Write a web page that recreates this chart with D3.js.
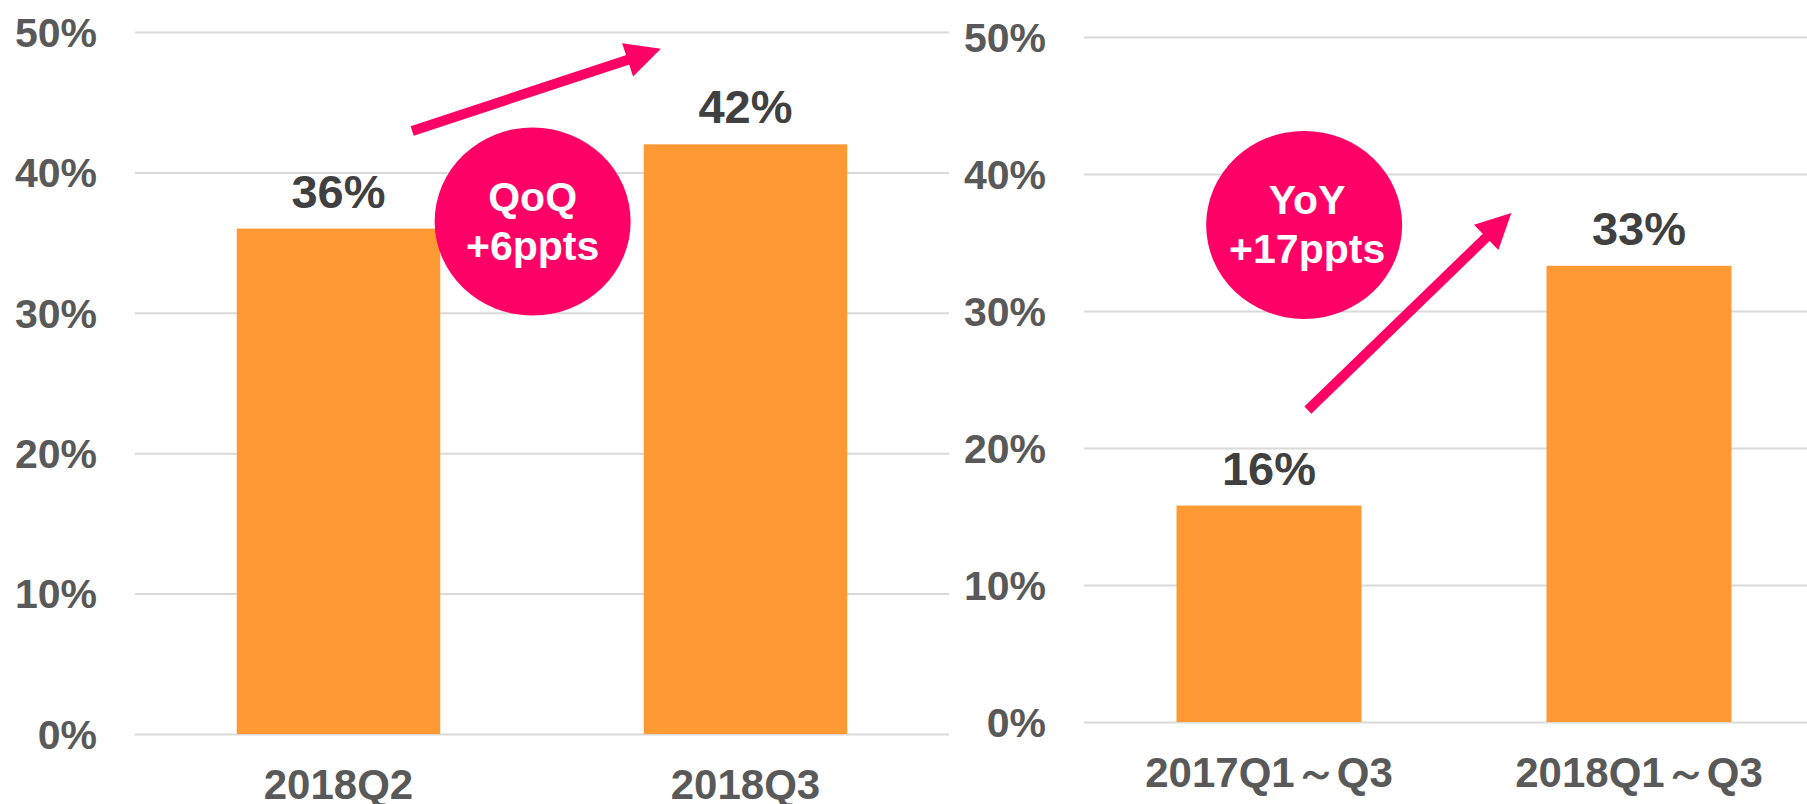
<!DOCTYPE html>
<html>
<head>
<meta charset="utf-8">
<script src="https://cdn.jsdelivr.net/npm/d3@7"></script>
<style>
  body { margin: 0; background: #fff; }
  svg { display: block; font-family: "Liberation Sans", Arial, "Noto Sans CJK JP", sans-serif; font-weight: bold; }
  .grid line { stroke: #d9d9d9; stroke-width: 2; }
  .grid text { fill: #595959; font-size: 41px; }
  .cats text { fill: #595959; font-size: 42px; }
</style>
</head>
<body>
<script>
// data
var qoqCats = ['2018Q2', '2018Q3'];
var qoqVals = [0.36, 0.42];
var qoqLabels = ['36%', '42%'];

var yoyCats = ['2017Q1～Q3', '2018Q1～Q3'];
var yoyVals = [0.158, 0.333];
var yoyLabels = ['16%', '33%'];

var yTicks = [0, 0.1, 0.2, 0.3, 0.4, 0.5];

var qoqBadge = ['QoQ', '+6ppts'];
var yoyBadge = ['YoY', '+17ppts'];

// layout of the two panels (pixels) and annotation anchors (band units / values)
var panels = [
  { cats: qoqCats, vals: qoqVals, labels: qoqLabels, badge: qoqBadge,
    x0: 135, x1: 949, y0: 734, y1: 32,
    arrow: { from: [0.681, 0.4295], to: [1.292, 0.488] },
    circle: { at: [0.977, 0.365], rx: 98, ry: 94, dx: 0 } },
  { cats: yoyCats, vals: yoyVals, labels: yoyLabels, badge: yoyBadge,
    x0: 1084, x1: 1824, y0: 722, y1: 37,
    arrow: { from: [0.605, 0.2277], to: [1.155, 0.3715] },
    circle: { at: [0.595, 0.3628], rx: 98, ry: 94, dx: 3 } }
];

var pink = '#ff0066';
var orange = '#ff9933';

var svg = d3.select('body').append('svg')
  .attr('width', 1807)
  .attr('height', 804);

panels.forEach(function(p) {
  var x = d3.scaleBand().domain(p.cats).range([p.x0, p.x1])
    .paddingInner(0.5).paddingOuter(0.25);
  var xu = d3.scaleLinear().domain([0, 2]).range([p.x0, p.x1]);
  var y = d3.scaleLinear().domain([0, 0.5]).range([p.y0, p.y1]);

  var g = svg.append('g');

  // gridlines + tick labels
  g.append('g')
    .attr('class', 'grid')
    .attr('transform', 'translate(' + p.x0 + ',0)')
    .call(d3.axisLeft(y).tickValues(yTicks)
      .tickFormat(d3.format('.0%'))
      .tickSize(-(p.x1 - p.x0))
      .tickPadding(38))
    .call(function(a) { a.select('.domain').remove(); })
    .selectAll('text').attr('dy', '0.35em');

  // bars
  g.selectAll('rect.bar')
    .data(p.vals)
    .enter().append('rect')
    .attr('class', 'bar')
    .attr('x', function(d, i) { return x(p.cats[i]); })
    .attr('y', function(d) { return y(d); })
    .attr('width', x.bandwidth())
    .attr('height', function(d) { return y(0) - y(d); })
    .attr('fill', orange);

  // value labels
  g.selectAll('text.val')
    .data(p.vals)
    .enter().append('text')
    .attr('class', 'val')
    .attr('x', function(d, i) { return x(p.cats[i]) + x.bandwidth() / 2; })
    .attr('y', function(d) { return y(d) - 21; })
    .attr('text-anchor', 'middle')
    .attr('fill', '#404040')
    .style('font-size', '47px')
    .text(function(d, i) { return p.labels[i]; });

  // category labels
  g.append('g')
    .attr('class', 'cats')
    .attr('transform', 'translate(0,' + p.y0 + ')')
    .call(d3.axisBottom(x).tickSize(0).tickPadding(35))
    .call(function(a) { a.select('.domain').remove(); });

  // arrow
  var ax0 = xu(p.arrow.from[0]), ay0 = y(p.arrow.from[1]);
  var ax1 = xu(p.arrow.to[0]), ay1 = y(p.arrow.to[1]);
  var dx = ax1 - ax0, dy = ay1 - ay0, len = Math.sqrt(dx * dx + dy * dy);
  var ux = dx / len, uy = dy / len;
  var headLen = 35, headHalf = 17.5;
  var bx = ax1 - ux * headLen, by = ay1 - uy * headLen;
  g.append('line')
    .attr('x1', ax0).attr('y1', ay0)
    .attr('x2', bx + ux * 2).attr('y2', by + uy * 2)
    .attr('stroke', pink)
    .attr('stroke-width', 10);
  g.append('polygon')
    .attr('points', [
      [ax1, ay1],
      [bx - uy * headHalf, by + ux * headHalf],
      [bx + uy * headHalf, by - ux * headHalf]
    ].map(function(pt) { return pt.join(','); }).join(' '))
    .attr('fill', pink);

  // badge
  var cx = xu(p.circle.at[0]), cy = y(p.circle.at[1]);
  g.append('ellipse')
    .attr('cx', cx).attr('cy', cy)
    .attr('rx', p.circle.rx).attr('ry', p.circle.ry)
    .attr('fill', pink);
  g.selectAll('text.badge')
    .data(p.badge)
    .enter().append('text')
    .attr('class', 'badge')
    .attr('x', cx + p.circle.dx)
    .attr('y', function(d, i) { return cy + (i === 0 ? -11 : 38); })
    .attr('text-anchor', 'middle')
    .attr('fill', '#fff')
    .style('font-size', '41px')
    .text(function(d) { return d; });
});
</script>
</body>
</html>
